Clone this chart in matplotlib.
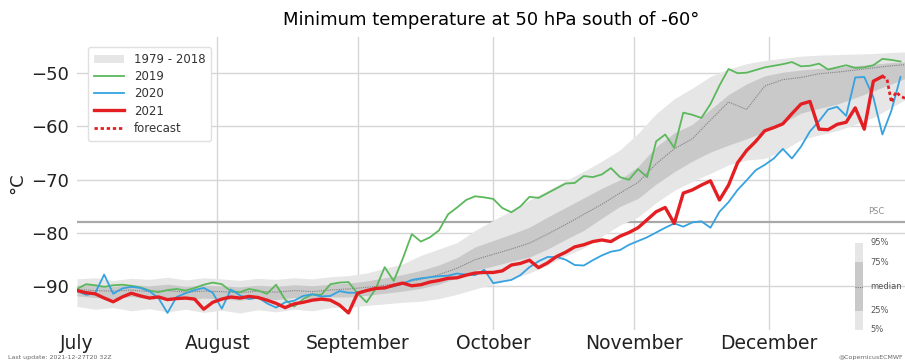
import numpy as np
import matplotlib
matplotlib.use("Agg")
import matplotlib.pyplot as plt
from matplotlib.patches import Patch
from matplotlib.lines import Line2D

# day index: 0 = 1 July
month_start = [0, 31, 62, 92, 123, 153]
month_names = ['July', 'August', 'September', 'October', 'November', 'December']

# observed series, every 2 days
obs_days = list(range(0, 184, 2))
t2019 = [-90.5, -89.6, -89.8, -90.1, -89.8, -89.7, -89.9, -90.2, -90.8, -91.1,
         -90.7, -90.5, -90.8, -90.3, -89.7, -89.3, -89.6, -90.9, -91.1, -90.5,
         -90.8, -91.4, -89.7, -92.5, -93.8, -92.4, -91.5, -91.6, -89.6, -89.3,
         -89.2, -91.3, -93.0, -90.5, -86.4, -89.0, -84.8, -80.2, -81.6, -80.8,
         -79.5, -76.5, -75.2, -73.8, -73.1, -73.3, -73.6, -75.3, -76.1, -75.0,
         -73.2, -73.4, -72.5, -71.6, -70.7, -70.6, -69.3, -69.5, -69.0, -67.8,
         -69.5, -70.0, -68.0, -69.5, -62.8, -61.5, -64.0, -57.4, -57.8, -58.4,
         -55.8, -52.3, -49.2, -50.0, -49.9, -49.4, -48.9, -48.6, -48.3, -47.9,
         -48.7, -48.6, -48.2, -49.3, -48.9, -48.5, -49.0, -48.9, -48.5, -47.3,
         -47.5, -47.8]
t2020 = [-90.8, -91.6, -91.3, -87.8, -91.4, -90.4, -90.1, -90.3, -90.9, -92.2,
         -95.0, -92.0, -91.3, -90.7, -90.3, -91.2, -94.2, -90.6, -91.7, -92.4,
         -92.1, -93.2, -94.0, -93.0, -92.7, -91.8, -91.5, -91.9, -91.8, -90.9,
         -91.2, -91.2, -90.8, -90.4, -90.2, -90.0, -89.5, -88.8, -88.5, -88.3,
         -88.1, -88.0, -87.6, -87.8, -87.9, -86.9, -89.4, -89.1, -88.8, -87.9,
         -86.4, -85.3, -84.5, -84.5, -85.0, -86.0, -86.1, -85.1, -84.2, -83.5,
         -83.2, -82.2, -81.5, -80.8, -79.9, -79.0, -78.2, -78.8, -78.0, -77.8,
         -79.0, -76.0, -74.2, -71.9, -70.1, -68.2, -67.2, -66.0, -64.2, -66.0,
         -63.8, -60.9, -59.0, -56.8, -56.3, -58.0, -50.8, -50.7, -54.5, -61.5,
         -57.0, -50.7]
days2021 = list(range(0, 180, 2))
t2021 = [-90.8, -91.2, -91.4, -92.2, -92.9, -92.0, -91.3, -91.8, -92.2, -92.0,
         -92.5, -92.3, -92.2, -92.4, -94.3, -93.0, -92.4, -92.0, -92.2, -91.9,
         -92.1, -92.6, -93.2, -94.0, -93.3, -93.0, -92.6, -92.4, -92.6, -93.5,
         -95.0, -91.3, -90.8, -90.4, -90.3, -89.8, -89.4, -89.9, -89.7, -89.2,
         -88.9, -88.5, -88.4, -87.9, -87.5, -87.4, -87.4, -87.1, -86.0, -85.7,
         -85.1, -86.5, -85.6, -84.4, -83.6, -82.6, -82.2, -81.6, -81.3, -81.6,
         -80.6, -79.9, -79.0, -77.5, -76.0, -75.2, -78.2, -72.5, -71.9, -71.0,
         -70.2, -73.8, -71.0, -66.8, -64.5, -62.8, -60.8, -60.2, -59.5, -57.6,
         -55.8, -55.3, -60.5, -60.6, -59.6, -59.2, -56.5, -60.5, -51.5, -50.6]
fc_days = [178, 179, 180, 181, 182, 183]
fc_vals = [-50.6, -51.0, -55.5, -53.5, -54.3, -54.7]

# 1979-2018 climatology, every 4 days
clim_days = list(range(0, 184, 4)) + [183]
p95 = [-88.6, -88.4, -88.9, -88.5, -88.7, -88.3, -88.8, -88.4, -88.6, -88.9,
       -88.5, -88.7, -88.4, -88.6, -88.2, -88.0, -87.5, -86.6, -85.8, -84.2,
       -83.0, -81.8, -79.5, -77.6, -75.8, -73.8, -72.0, -70.2, -68.4, -66.5,
       -64.4, -61.3, -57.6, -54.8, -52.8, -50.6, -49.2, -48.2, -47.6, -47.2,
       -46.8, -46.6, -46.5, -46.4, -46.3, -46.1, -46.0]
p75 = [-89.8, -89.6, -90.0, -89.7, -89.9, -89.6, -90.0, -89.8, -89.9, -90.1,
       -89.8, -90.0, -89.7, -89.9, -89.6, -89.4, -89.0, -88.4, -87.8, -87.0,
       -86.0, -84.6, -82.6, -81.4, -80.2, -78.9, -77.0, -75.2, -73.4, -71.6,
       -70.0, -67.5, -63.8, -61.2, -59.6, -56.8, -54.0, -52.0, -50.5, -49.8,
       -49.4, -49.1, -48.9, -48.6, -48.3, -48.0, -47.9]
p50 = [-90.6, -90.8, -90.9, -90.7, -91.0, -90.8, -91.1, -90.9, -91.0, -91.2,
       -90.9, -91.1, -90.8, -91.0, -90.7, -90.5, -90.2, -89.8, -89.3, -88.7,
       -87.8, -86.6, -85.0, -84.0, -83.0, -81.9, -80.2, -78.4, -76.5, -74.6,
       -72.5, -70.5, -67.0, -64.2, -62.3, -58.8, -55.4, -56.8, -52.4, -51.2,
       -50.8, -50.1, -49.8, -49.4, -49.0, -48.6, -48.4]
p25 = [-91.8, -92.1, -92.3, -91.9, -92.4, -92.2, -92.5, -92.2, -92.4, -92.6,
       -92.2, -92.5, -92.1, -92.3, -92.0, -92.0, -91.7, -91.3, -90.9, -90.4,
       -89.6, -88.4, -87.0, -86.2, -85.3, -84.5, -83.0, -81.2, -79.5, -77.2,
       -75.0, -73.5, -70.8, -68.5, -66.5, -64.8, -63.5, -62.3, -61.0, -59.3,
       -57.5, -56.6, -55.8, -54.6, -53.3, -52.0, -51.0]
p5 = [-93.8, -94.3, -94.0, -94.6, -94.2, -94.8, -94.3, -94.9, -94.5, -95.0,
      -94.4, -94.8, -94.3, -94.6, -94.0, -93.9, -93.6, -93.3, -93.0, -92.8,
      -92.3, -91.5, -90.5, -89.6, -88.6, -87.5, -86.0, -84.3, -82.8, -80.6,
      -78.5, -77.0, -74.3, -72.0, -70.3, -68.8, -67.2, -66.3, -66.0, -64.5,
      -62.5, -61.6, -60.8, -59.6, -58.3, -56.4, -55.0]

psc = -78

c_light = '#e6e6e6'
c_dark = '#c9c9c9'
c_green = '#5cb85c'
c_blue = '#36a2e0'
c_red = '#e41f23'

fig = plt.figure(figsize=(9.05, 3.64), dpi=100)
ax = fig.add_axes([77/905, 34/364, 828/905, 293/364])

ax.fill_between(clim_days, p5, p95, color=c_light, lw=0, zorder=1)
ax.fill_between(clim_days, p25, p75, color=c_dark, lw=0, zorder=1.1)
ax.plot(clim_days, p50, color='#808080', lw=0.8, ls=(0, (1, 1)), zorder=1.2)

for yv in [-90, -80, -70, -60, -50]:
    ax.axhline(yv, color='#d6d6d6', lw=1, zorder=0.5)
for m in month_start[1:]:
    ax.axvline(m, color='#d6d6d6', lw=1, zorder=0.5)
ax.axhline(psc, color='#a8a8a8', lw=1.6, zorder=0.6)
ax.text(178.5, psc + 1.2, 'PSC', fontsize=6, color='#909090', ha='right', va='bottom')

ax.plot(obs_days, t2019, color=c_green, lw=1.3, zorder=3)
ax.plot(obs_days, t2020, color=c_blue, lw=1.3, zorder=3.1)
ax.plot(days2021, t2021, color=c_red, lw=2.4, zorder=3.2)
ax.plot(fc_days, fc_vals, color=c_red, lw=2.0, ls=(0, (1.2, 1)), zorder=3.2)

ax.set_xlim(0, 183)
ax.set_ylim(-98.2, -43.2)
ax.set_yticks([-90, -80, -70, -60, -50])
ax.set_xticks(month_start)
ax.set_xticklabels(month_names, fontsize=13.5, color='#222222')
ax.tick_params(axis='y', labelsize=13, length=0, pad=6, colors='#222222')
ax.tick_params(axis='x', length=0, pad=3)
for s in ax.spines.values():
    s.set_visible(False)
ax.set_ylabel('°C', fontsize=13, labelpad=3, color='#222222')

handles = [Patch(facecolor=c_light, edgecolor='none'),
           Line2D([], [], color=c_green, lw=1.3),
           Line2D([], [], color=c_blue, lw=1.3),
           Line2D([], [], color=c_red, lw=2.4),
           Line2D([], [], color=c_red, lw=2.0, ls=(0, (1.2, 1)))]
labels = ['1979 - 2018', '2019', '2020', '2021', 'forecast']
leg = ax.legend(handles, labels, loc='upper left', bbox_to_anchor=(0.006, 0.985),
                fontsize=8.5, handlelength=2.6, labelspacing=0.35, framealpha=1,
                borderpad=0.5)
leg.get_frame().set_edgecolor('#e0e0e0')
for t in leg.get_texts():
    t.set_color('#333333')

fig.text(491/905, 1 - 20/364, 'Minimum temperature at 50 hPa south of -60°',
         ha='center', va='center', fontsize=13)

# percentile key
key = fig.add_axes([855/905, 34/364, 8/905, 87/364])
key.set_xlim(0, 1)
key.set_ylim(5, 95)
key.fill_between([0, 1], 5, 95, color=c_light, lw=0)
key.fill_between([0, 1], 25, 75, color=c_dark, lw=0)
key.plot([0, 1], [50, 50], color='#808080', lw=0.8, ls=(0, (1, 1)))
key.axis('off')
for val, lab in [(95, '95%'), (75, '75%'), (50, 'median'), (25, '25%'), (5, '5%')]:
    key.text(1.9, val, lab, fontsize=6, color='#555555', va='center', ha='left')

fig.text(8/905, 1 - 357/364, 'Last update: 2021-12-27T20 32Z', fontsize=4.5,
         color='#666666', va='center')
fig.text(903/905, 1 - 357/364, '@CopernicusECMWF', fontsize=4.5,
         color='#666666', va='center', ha='right')

fig.savefig('out.png', dpi=100)
